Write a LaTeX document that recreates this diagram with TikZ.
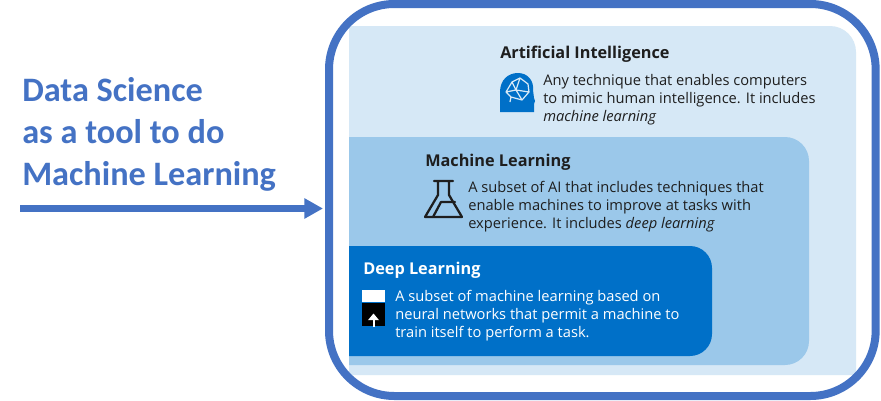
\documentclass[tikz,border=0pt]{standalone}
\usepackage{fontspec}
\setmainfont{Open Sans}
\newfontfamily\calib{Carlito}
\usetikzlibrary{arrows.meta}
\definecolor{frameblue}{HTML}{4472C4}
\definecolor{lightbox}{HTML}{D6E8F6}
\definecolor{midbox}{HTML}{9BC8EA}
\definecolor{deepbox}{HTML}{0070C8}
\definecolor{inktext}{HTML}{1E1E1E}
\tikzset{
  px/.style={x=0.75pt,y=-0.75pt},
  heading/.style={anchor=base west,inner sep=0pt,font=\fontsize{12.2}{15}\selectfont\bfseries,text=inktext},
  bodytext/.style={anchor=base west,inner sep=0pt,align=left,font=\fontsize{11}{13.5}\selectfont,text=inktext},
  lefttext/.style={anchor=base west,inner sep=0pt,font=\fontsize{25.7}{30}\selectfont\calib\bfseries,text=frameblue},
  flaskline/.style={draw=inktext,line width=1.7pt,line join=round,line cap=round},
  brainline/.style={draw=white!85!deepbox,line width=0.9pt,line join=round}
}
\begin{document}
\begin{tikzpicture}[px]
\useasboundingbox (0,0) rectangle (881,400);
\fill[white] (0,0) rectangle (881,400);
% light box
\fill[lightbox] (349,375) -- (856,375) [rounded corners=19.5pt] -- (856,26) [sharp corners] -- (349,26) -- cycle;
% mid box
\fill[midbox] (349,365) [rounded corners=18pt] -- (809,365) -- (809,137) [sharp corners] -- (349,137) -- cycle;
% deep box
\fill[deepbox] (349,356) [rounded corners=16.5pt] -- (712,356) -- (712,246) [sharp corners] -- (349,246) -- cycle;
% outer frame
\node[draw=frameblue,line width=6pt,rounded corners=49pt,minimum width=410pt,minimum height=294pt,inner sep=0pt,outer sep=0pt,anchor=north west] (outer) at (329,4) {};
% left text
\node[lefttext] (l1) at (22,101.5) {Data Science};
\node[lefttext] (l2) at (22,143) {as a tool to do};
\node[lefttext] (l3) at (22,185) {Machine Learning};
\coordinate (arrowstart) at (20,208.5);
\coordinate (arrowend) at (323,208.5);
\draw[frameblue,line width=4.6pt,-{Triangle[length=14pt,width=14.5pt]}] (arrowstart) -- (arrowend);
% AI
\node[heading] (aihead) at (500,58) {Artificial Intelligence};
\node[bodytext] (aibody) at (543,121) {Any technique that enables computers\\to mimic human intelligence. It includes\\\textit{machine learning}};
% brain icon
\fill[deepbox] (500,112) -- (500,92) .. controls (500,80) and (508,73) .. (518,73) .. controls (528,73) and (534,81) .. (533,90) -- (534,98) -- (535,101) -- (534,104) -- (534,112) -- cycle;
\draw[brainline] (506,92) -- (512,82) -- (520,78) -- (528,84) -- (529,92) -- (522,100) -- (511,97) -- cycle
  (512,82) -- (516,90) -- (520,78) (516,90) -- (506,92) (516,90) -- (522,100) (516,90) -- (529,92) (511,97) -- (510,102);
% ML
\node[heading] (mlhead) at (425,166) {Machine Learning};
\node[bodytext] (mlbody) at (468,228) {A subset of AI that includes techniques that\\enable machines to improve at tasks with\\experience. It includes \textit{deep learning}};
% flask
\draw[flaskline] (434,181) -- (453,181) (438,181) -- (438,195) -- (425,217) -- (462,217) -- (449,195) -- (449,181);
\draw[flaskline] (433,217) -- (441,202) -- (455,202);
% DL
\node[heading,text=white] (dlhead) at (363,274) {Deep Learning};
\node[bodytext,text=white] (dlbody) at (395,337) {A subset of machine learning based on\\neural networks that permit a machine to\\train itself to perform a task.};
% layer icon
\fill[white] (362,290) rectangle (385,302);
\fill[black] (362,303) rectangle (385,325.5);
\draw[white,line width=1.5pt,-{Triangle[length=5pt,width=8pt]}] (373.5,327) -- (373.5,313.5);
\end{tikzpicture}
\end{document}
